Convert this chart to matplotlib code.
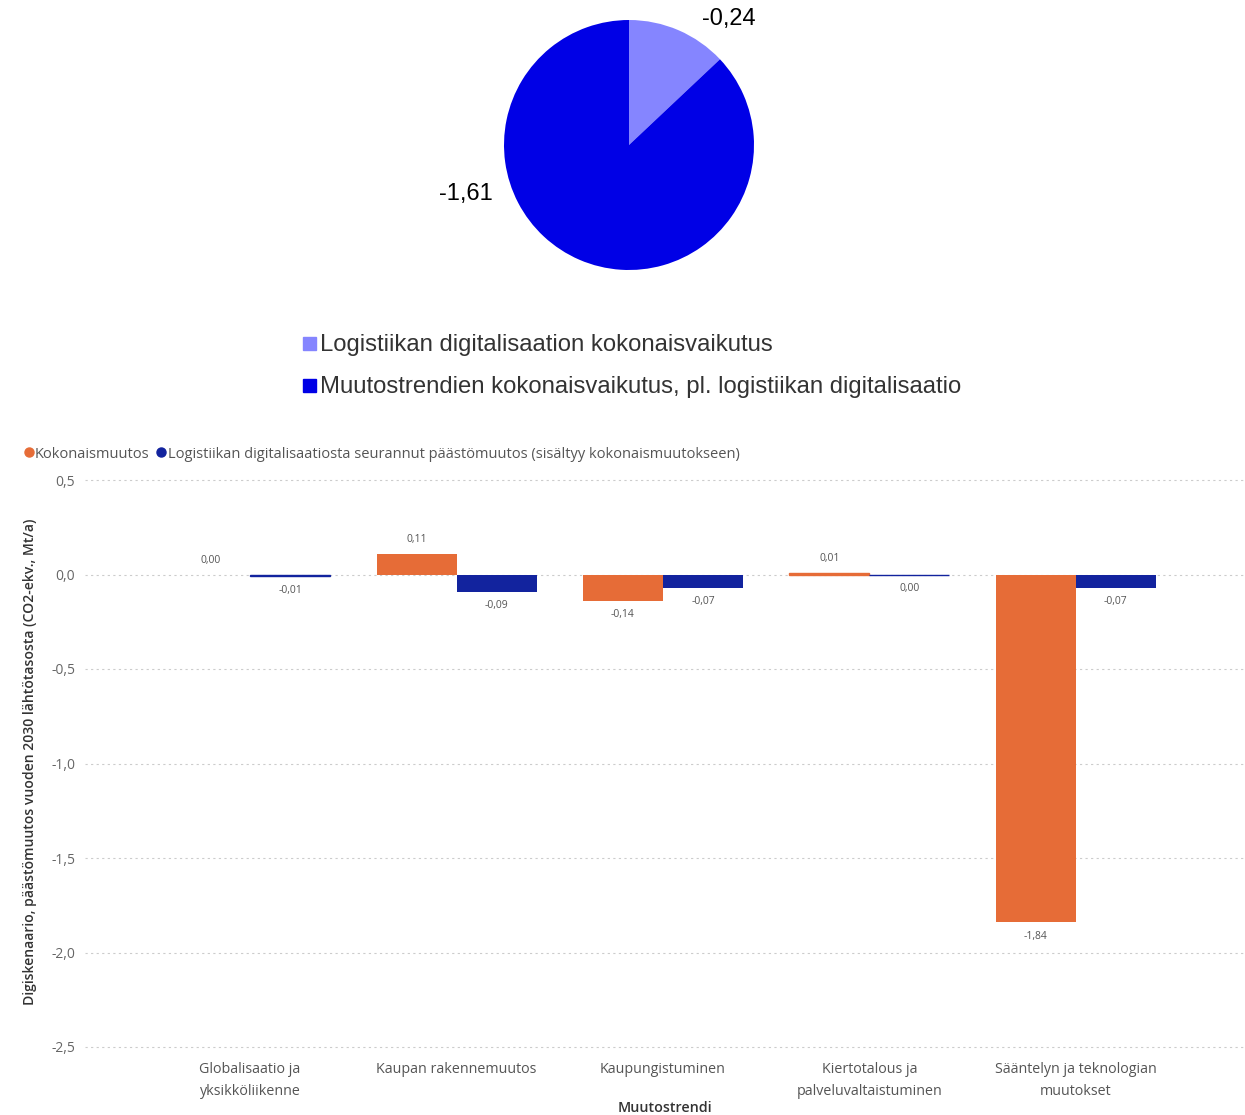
import matplotlib
matplotlib.use("Agg")
import matplotlib.pyplot as plt
from matplotlib.lines import Line2D
import numpy as np

# ---- data ----
pie_labels = ["Logistiikan digitalisaation kokonaisvaikutus",
              "Muutostrendien kokonaisvaikutus, pl. logistiikan digitalisaatio"]
pie_values = [-0.24, -1.61]
pie_colors = ["#8585FF", "#0000E6"]

categories = ["Globalisaatio ja\nyksikköliikenne", "Kaupan rakennemuutos", "Kaupungistuminen",
              "Kiertotalous ja\npalveluvaltaistuminen", "Sääntelyn ja teknologian\nmuutokset"]
series_names = ["Kokonaismuutos",
                "Logistiikan digitalisaatiosta seurannut päästömuutos (sisältyy kokonaismuutokseen)"]
total_change = [0.00, 0.11, -0.14, 0.01, -1.84]
digi_change = [-0.01, -0.09, -0.07, -0.003, -0.07]
bar_colors = ["#E66C37", "#12239E"]
yticks = [0.5, 0.0, -0.5, -1.0, -1.5, -2.0, -2.5]

W, H = 1245, 1115
fig = plt.figure(figsize=(W / 100, H / 100), dpi=100)

def fx(px):
    return px / W

def fy(py):
    return 1 - py / H

def fmt(v):
    return f"{round(v, 2) + 0.0:.2f}".replace(".", ",")

# ---- pie ----
cx, cy, r = 629, 145, 125
pax = fig.add_axes([fx(cx - r), fy(cy + r), 2 * r / W, 2 * r / H])
pax.pie([abs(v) for v in pie_values], colors=pie_colors, startangle=90,
        counterclock=False, radius=1, wedgeprops=dict(linewidth=0))
pax.set_xlim(-1, 1)
pax.set_ylim(-1, 1)
pax.set_aspect("auto")
pax.axis("off")
pie_font = ["Liberation Sans", "DejaVu Sans"]
fig.text(fx(729), fy(19), fmt(pie_values[0]), ha="center", va="center",
         fontsize=17, family=pie_font, color="#000000")
fig.text(fx(466), fy(194), fmt(pie_values[1]), ha="center", va="center",
         fontsize=17, family=pie_font, color="#000000")

for i, (lab, col) in enumerate(zip(pie_labels, pie_colors)):
    yy = [344, 386][i]
    fig.patches.append(plt.Rectangle((fx(303), fy(yy + 6)), 13 / W, 13 / H,
                                     transform=fig.transFigure, color=col, figure=fig))
    fig.text(fx(320), fy(yy + 1), lab, ha="left", va="center", fontsize=17.2,
             family=pie_font, color="#333333")

# ---- bar chart ----
font = ["Open Sans", "DejaVu Sans"]
ax = fig.add_axes([fx(85), fy(1047), 1 - fx(85), fy(480) - fy(1047)])
x = np.arange(len(categories))
bw = 0.3875
b1 = ax.bar(x - bw / 2, total_change, bw, color=bar_colors[0], linewidth=0)
b2 = ax.bar(x + bw / 2, digi_change, bw, color=bar_colors[1], linewidth=0)
for bars, vals, col in [(b1, total_change, bar_colors[0]), (b2, digi_change, bar_colors[1])]:
    for b, v in zip(bars, vals):
        if 0 < abs(v) < 0.015:
            b.set_linewidth(1.0)
            b.set_edgecolor(col)
        off = 6 if v >= 0 else -6
        ax.annotate(fmt(v), (b.get_x() + b.get_width() / 2, v), xytext=(0, off),
                    textcoords="offset points", ha="center",
                    va="bottom" if off > 0 else "top", fontsize=7.5,
                    family=font, color="#555555")

ax.set_ylim(-2.5, 0.5)
ax.set_xlim(-0.8, 4.82)
ax.set_yticks(yticks)
ax.set_yticklabels([fmt(t)[:-1] for t in yticks], family=font, fontsize=10, color="#666666")
ax.set_xticks(x)
ax.set_xticklabels(categories, family=font, fontsize=10.3, color="#555555", linespacing=1.6)
ax.tick_params(axis="y", length=0, pad=7)
ax.tick_params(axis="x", length=0, pad=11)
for s in ax.spines.values():
    s.set_visible(False)
ax.grid(axis="y", linestyle=(0, (2, 3)), color="#CCCCCC", linewidth=0.8)
for g in ax.get_ygridlines():
    g.set_clip_on(False)
ax.set_axisbelow(True)
fig.text(fx(30), fy(762), "Digiskenaario, päästömuutos vuoden 2030 lähtötasosta (CO2-ekv., Mt/a)",
         rotation=90, ha="center", va="center", family=font, fontsize=10.1,
         color="#333333", fontweight="semibold")
fig.text(fx(665), fy(1108), "Muutostrendi", ha="center", va="center", family=font,
         fontsize=10.3, color="#333333", fontweight="semibold")

handles = [Line2D([], [], marker="o", linestyle="", color=c, markersize=6.5) for c in bar_colors]
fig.legend(handles, series_names, loc="center left", bbox_to_anchor=(fx(11), fy(454)),
           ncol=2, frameon=False, handletextpad=-0.35, columnspacing=0.0, handlelength=1.6,
           prop=dict(family=font, size=10.5), labelcolor="#555555", borderaxespad=0)

fig.savefig("out.png", dpi=100)
